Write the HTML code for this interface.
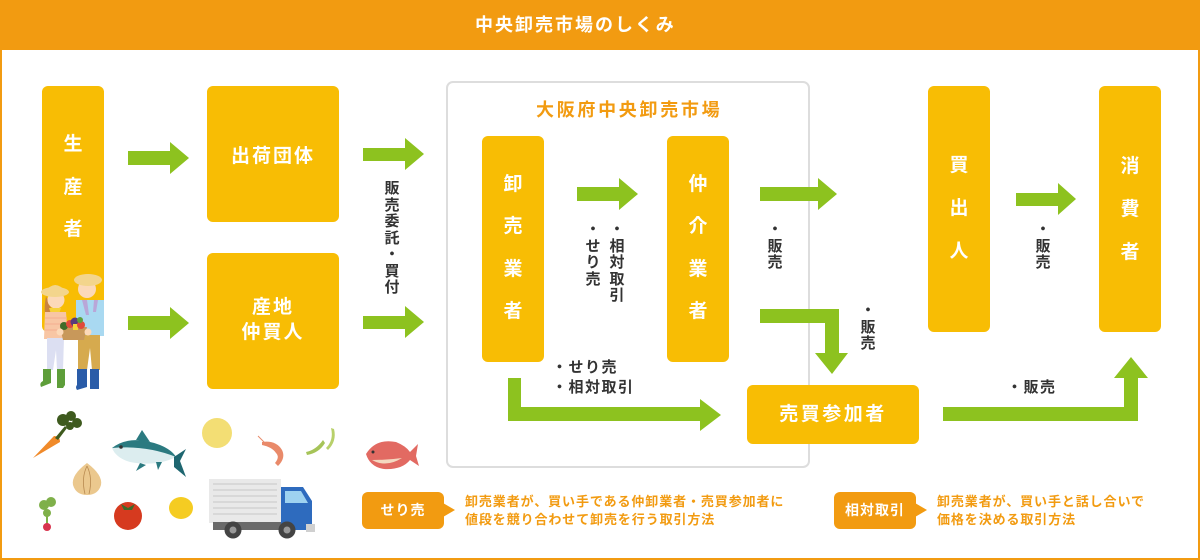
<!DOCTYPE html>
<html><head><meta charset="utf-8">
<style>
*{margin:0;padding:0;box-sizing:border-box}
body{width:1200px;height:560px;position:relative;overflow:hidden;background:#fff;font-family:"Liberation Sans","Noto Sans CJK JP",sans-serif;}
.frame{position:absolute;left:0;top:0;width:1200px;height:560px;border:2px solid #F29B11;}
.hdr{position:absolute;left:0;top:0;width:1200px;height:50px;background:#F29B11}
.hdr span{position:absolute;left:475px;top:11px;color:#fff;font-size:18px;font-weight:bold;letter-spacing:2px;line-height:28px;white-space:nowrap}
.box{position:absolute;background:#F8BD04;border-radius:6px;color:#fff;font-weight:bold}
.vt{position:absolute;color:#fff;font-weight:bold;font-size:19px;text-align:center;width:62px}
.ht{position:absolute;color:#fff;font-weight:bold;font-size:19px;text-align:center;letter-spacing:2px;white-space:nowrap}
.lbl{position:absolute;color:#333;font-weight:bold;font-size:15px;line-height:16.5px;width:20px;text-align:center}
.hl{position:absolute;color:#333;font-weight:bold;font-size:15px;line-height:20px;letter-spacing:1.5px;white-space:nowrap}
.mkt{position:absolute;left:446px;top:81px;width:364px;height:387px;border:2px solid #DDDDDD;border-radius:7px}
.title{position:absolute;left:536px;top:96px;color:#F29B11;font-weight:bold;font-size:18px;letter-spacing:2.7px;line-height:28px;white-space:nowrap}
.badge{position:absolute;top:492px;width:82px;height:37px;background:#F29B11;border-radius:6px;color:#fff;font-weight:bold;font-size:14px;line-height:37px;text-align:center;letter-spacing:1px}
.desc{position:absolute;top:493px;color:#F29B11;font-weight:bold;font-size:13px;line-height:18px;letter-spacing:0.9px;white-space:nowrap}
svg{position:absolute;left:0;top:0}
</style></head><body>
<div class="hdr"><span>中央卸売市場のしくみ</span></div>
<div class="frame"></div>

<div class="mkt"></div>
<div class="title">大阪府中央卸売市場</div>

<!-- boxes -->
<div class="box" style="left:42px;top:86px;width:62px;height:246px"></div>
<div class="vt" style="left:42px;top:124px;line-height:42.5px">生<br>産<br>者</div>

<div class="box" style="left:207px;top:86px;width:132px;height:136px"></div>
<div class="ht" style="left:207px;top:143px;width:132px;line-height:28px">出荷団体</div>

<div class="box" style="left:207px;top:253px;width:132px;height:136px"></div>
<div class="ht" style="left:207px;top:296px;width:132px;line-height:24.5px">産地<br>仲買人</div>

<div class="box" style="left:482px;top:136px;width:62px;height:226px"></div>
<div class="vt" style="left:482px;top:164px;line-height:42.3px">卸<br>売<br>業<br>者</div>

<div class="box" style="left:667px;top:136px;width:62px;height:226px"></div>
<div class="vt" style="left:667px;top:164px;line-height:42.3px">仲<br>介<br>業<br>者</div>

<div class="box" style="left:928px;top:86px;width:62px;height:246px"></div>
<div class="vt" style="left:928px;top:144px;line-height:43px">買<br>出<br>人</div>

<div class="box" style="left:1099px;top:86px;width:62px;height:246px"></div>
<div class="vt" style="left:1099px;top:145px;line-height:43px">消<br>費<br>者</div>

<!-- arrows and illustrations -->
<svg width="1200" height="560" viewBox="0 0 1200 560">
<g fill="#8DC21F">
<polygon points="128,151 170,151 170,142 189,158 170,174 170,165 128,165"/>
<polygon points="128,316 170,316 170,307 189,323 170,339 170,330 128,330"/>
<polygon points="363,148 405,148 405,138 424,154 405,170 405,161 363,161"/>
<polygon points="363,316 405,316 405,306 424,322 405,338 405,329 363,329"/>
<polygon points="577,187 619,187 619,178 638,194 619,210 619,201 577,201"/>
<polygon points="760,187 818,187 818,178 837,194 818,210 818,201 760,201"/>
<polygon points="1016,193 1058,193 1058,183 1076,199 1058,215 1058,206 1016,206"/>
<polygon points="760,309 839,309 839,353 848,353 832,374 815,353 825,353 825,323 760,323"/>
<polygon points="508,378 521,378 521,407 700,407 700,399 721,415 700,431 700,421 508,421"/>
<polygon points="943,407 1124,407 1124,378 1114,378 1131,357 1148,378 1138,378 1138,421 943,421"/>
</g>

<!-- farmers -->
<g>
 <!-- woman -->
 <path d="M46 296 q-4 22 4 30 l6 -6 z" fill="#C9833F"/>
 <circle cx="56" cy="300" r="8.5" fill="#FCD9B8"/>
 <ellipse cx="55" cy="292" rx="14" ry="5" fill="#F3D58C"/>
 <path d="M45 292 q10 -14 21 0z" fill="#F3D58C"/>
 <path d="M49 308 l12 0 l-2 6 l-8 0z" fill="#F6D23A"/>
 <path d="M45 312 h21 l2 27 h-24 z" fill="#F8C6A4"/>
 <g stroke="#F4AE90" stroke-width="1"><line x1="45" y1="318" x2="67" y2="318"/><line x1="45" y1="324" x2="67" y2="324"/><line x1="45" y1="330" x2="67" y2="330"/></g>
 <path d="M47 338 h17 l-1 32 h-6 l-1 -20 l-3 20 h-6 z" fill="#DCDFF2"/>
 <path d="M43 369 h8 v14 l-10 4 q-2 -4 2 -6z" fill="#5E9E3A"/>
 <path d="M57 369 h8 v16 l-2 3 h-6z" fill="#5E9E3A"/>
 <!-- man -->
 <circle cx="87" cy="289" r="9" fill="#FCD9B8"/>
 <path d="M79 284 q8 -8 17 0 l0 -3 q-8 -6 -17 0z" fill="#A0582A"/>
 <ellipse cx="88" cy="280" rx="14" ry="6" fill="#F3D58C"/>
 <path d="M79 280 q9 -12 18 0z" fill="#F3D58C"/>
 <path d="M76 300 h28 l0 36 h-28 z" fill="#A9D9F1"/>
 <path d="M82 300 l4 15 h3 l-2 -15 z M94 300 l-1 12 h3 l2 -12z" fill="#B9A6D8"/>
 <path d="M78 335 h22 v35 h-8 l-2 -22 l-3 22 h-9 z" fill="#D6AA4E"/>
 <path d="M77 369 h10 v18 l-10 3 q-2 -3 0 -5z" fill="#2A5CA8"/>
 <path d="M90 369 h9 v20 h-9z" fill="#2A5CA8"/>
 <!-- basket -->
 <path d="M60 327 h27 l-3 13 h-21z" fill="#C8985A"/>
 <circle cx="64" cy="326" r="4" fill="#3F6B2A"/>
 <circle cx="70" cy="324" r="4" fill="#E04A3A"/>
 <circle cx="75" cy="322" r="4.5" fill="#5A3A7A"/>
 <rect x="73" y="324" width="5" height="6" fill="#F6D23A"/>
 <circle cx="81" cy="325" r="4" fill="#E04A3A"/>
 <circle cx="80" cy="320" r="3" fill="#5E9E3A"/>
 <circle cx="60" cy="332" r="3.5" fill="#FCD9B8"/>
 <circle cx="88" cy="332" r="3.5" fill="#FCD9B8"/>
</g>

<!-- carrot -->
<path d="M33 458 L54 436 q6 0 6 6 z" fill="#F08A2A"/>
<g fill="#3E5A1E"><circle cx="63" cy="420" r="6"/><circle cx="71" cy="416" r="5"/><circle cx="77" cy="423" r="5"/><circle cx="70" cy="426" r="4"/><path d="M55 438 l10 -12 l2 2 l-9 12z"/></g>
<!-- tuna -->
<path d="M112 448 q18 -14 48 -3 q12 5 16 12 q-20 10 -46 5 q-14 -4 -18 -14z" fill="#DCEDEF"/>
<path d="M112 448 q18 -14 48 -3 q12 5 16 12 q-30 -12 -64 -9z" fill="#2B7A80"/>
<path d="M136 440 l6 -10 l8 12z" fill="#2B7A80"/>
<path d="M140 463 l-4 8 l10 -6z M156 462 l2 8 l4 -8z" fill="#2B7A80"/>
<path d="M174 457 l12 -8 l-6 12 l6 16 l-12 -10z" fill="#1E6670"/>
<circle cx="121" cy="447" r="1.8" fill="#333"/>
<!-- grapefruit -->
<circle cx="217" cy="433" r="15" fill="#F3DE74"/>
<!-- shrimp -->
<path d="M262 442 q14 -2 20 8 q4 8 -4 16 l-3 -3 q5 -6 1 -10 q-4 -6 -14 -8z" fill="#E98A6A"/>
<line x1="258" y1="436" x2="266" y2="444" stroke="#E98A6A" stroke-width="1"/>
<!-- peas -->
<path d="M306 452 q10 -2 17 -12 l2 3 q-6 10 -18 12z" fill="#A6C458"/>
<path d="M326 448 q8 -8 5 -20 l3 1 q3 12 -6 21z" fill="#B8D06A"/>
<!-- red fish -->
<path d="M366 454 q10 -16 30 -12 q10 4 14 10 l8 -8 l-2 12 l3 10 l-9 -6 q-8 10 -26 9 q-14 -2 -18 -15z" fill="#E26A62"/>
<path d="M372 460 q14 8 30 -2 q-14 2 -30 2z" fill="#F4D8C0"/>
<circle cx="373" cy="452" r="1.5" fill="#333"/>
<!-- onion -->
<path d="M87 463 q-16 12 -14 22 q3 10 14 10 q11 0 14 -10 q2 -10 -14 -22z" fill="#EBC88E"/>
<g stroke="#B88A50" stroke-width="0.8" fill="none"><path d="M87 466 q-6 12 -2 28"/><path d="M87 466 q6 12 2 28"/></g>
<!-- radish -->
<g fill="#7FB04A"><circle cx="44" cy="505" r="5"/><circle cx="51" cy="502" r="5"/><circle cx="47" cy="513" r="4"/><rect x="46" y="510" width="2" height="14"/></g>
<circle cx="47" cy="527" r="4" fill="#D8344E"/>
<!-- tomato -->
<circle cx="128" cy="516" r="14" fill="#D63A1F"/>
<path d="M121 504 l7 4 l7 -4 l-3 6 l-8 0z" fill="#3E6A2A"/>
<!-- lemon -->
<ellipse cx="181" cy="508" rx="12" ry="11" fill="#F5CC22"/>
<!-- truck -->
<rect x="209" y="479" width="72" height="44" fill="#E9E9E9"/>
<g stroke="#C8C8C8" stroke-width="1"><line x1="213" y1="484" x2="277" y2="484"/><line x1="213" y1="490" x2="277" y2="490"/><line x1="213" y1="496" x2="277" y2="496"/><line x1="213" y1="502" x2="277" y2="502"/><line x1="213" y1="508" x2="277" y2="508"/><line x1="213" y1="514" x2="277" y2="514"/></g>
<rect x="213" y="522" width="70" height="8" fill="#6A6A6A"/>
<path d="M281 487 h22 l9 14 v29 h-31z" fill="#2E6BBE"/>
<path d="M285 491 h16 l7 12 h-23z" fill="#9ED2F0"/>
<rect x="306" y="524" width="9" height="8" fill="#D0D0D0"/>
<circle cx="233" cy="530" r="8.5" fill="#444"/><circle cx="233" cy="530" r="3.5" fill="#999"/>
<circle cx="287" cy="530" r="8.5" fill="#444"/><circle cx="287" cy="530" r="3.5" fill="#999"/>
<!-- legend pointers -->
<polygon points="443,503 455,510 443,517" fill="#F29B11"/>
<polygon points="915,503 927,510 915,517" fill="#F29B11"/>
</svg>

<!-- vertical labels -->
<div class="lbl" style="left:382px;top:181px">販<br>売<br>委<br>託<br>・<br>買<br>付</div>
<div class="lbl" style="left:583px;top:222px">・<br>せ<br>り<br>売</div>
<div class="lbl" style="left:607px;top:222px">・<br>相<br>対<br>取<br>引</div>
<div class="lbl" style="left:765px;top:222px">・<br>販<br>売</div>
<div class="lbl" style="left:858px;top:303px">・<br>販<br>売</div>
<div class="lbl" style="left:1033px;top:222px">・<br>販<br>売</div>

<!-- horizontal labels -->
<div class="hl" style="left:552px;top:358px">・せり売</div>
<div class="hl" style="left:552px;top:378px">・相対取引</div>
<div class="hl" style="left:1007px;top:378px">・販売</div>

<div class="box" style="left:747px;top:385px;width:172px;height:59px"></div>
<div class="ht" style="left:747px;top:401px;width:172px;line-height:28px;letter-spacing:2.5px">売買参加者</div>

<!-- legend -->
<div class="badge" style="left:362px">せり売</div>
<div class="desc" style="left:465px">卸売業者が、買い手である仲卸業者・売買参加者に<br>値段を競り合わせて卸売を行う取引方法</div>
<div class="badge" style="left:834px">相対取引</div>
<div class="desc" style="left:937px">卸売業者が、買い手と話し合いで<br>価格を決める取引方法</div>
</body></html>
